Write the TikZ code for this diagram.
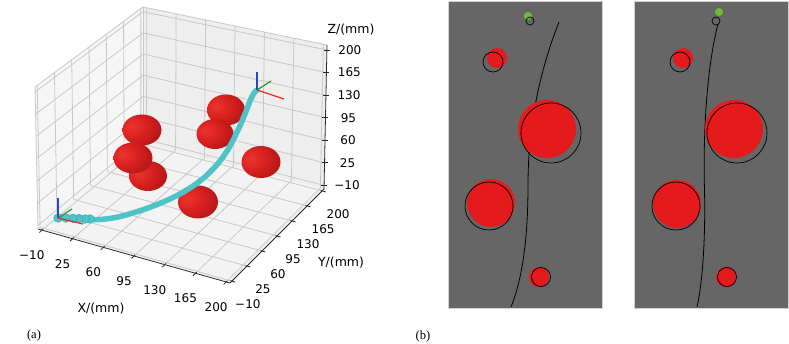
\documentclass[tikz,border=0pt]{standalone}
\usepackage{fontspec}
\setmainfont{Liberation Serif}
\newfontfamily\plotfont{DejaVu Sans}
\usetikzlibrary{calc}
\definecolor{gridc}{RGB}{200,200,200}
\definecolor{paneL}{RGB}{246,246,246}
\definecolor{paneR}{RGB}{238,238,238}
\definecolor{paneF}{RGB}{243,243,243}
\definecolor{axisc}{RGB}{40,40,40}
\definecolor{trajc}{RGB}{78,196,200}
\definecolor{trajd}{RGB}{60,170,176}
\definecolor{sphA}{RGB}{236,52,46}
\definecolor{sphB}{RGB}{216,32,32}
\definecolor{sphC}{RGB}{176,22,22}
\definecolor{sphD}{RGB}{128,14,14}
\definecolor{panelgray}{RGB}{102,102,102}
\definecolor{obsred}{RGB}{228,26,28}
\definecolor{goalgreen}{RGB}{108,190,48}
\definecolor{frameR}{RGB}{228,40,40}
\definecolor{frameG}{RGB}{40,150,40}
\definecolor{frameB}{RGB}{40,70,200}
\pgfdeclareradialshading{sph}{\pgfpoint{-14bp}{6bp}}{color(0bp)=(sphA); color(18bp)=(sphB); color(36bp)=(sphC); color(54bp)=(sphD); color(100bp)=(sphD)}
\tikzset{
  gridline/.style={draw=gridc, line width=0.8pt},
  axisline/.style={draw=axisc, line width=0.8pt},
  ticklab/.style={font=\plotfont\fontsize{12}{14}\selectfont, inner sep=0pt},
  axlab/.style={font=\plotfont\fontsize{12.5}{14}\selectfont, inner sep=0pt},
  figlab/.style={font=\fontsize{12.5}{14}\selectfont, inner sep=0pt},
  sphere/.style={shading=sph},
  traj/.style={draw=trajc, line width=5.5pt, line cap=round, line join=round},
  trajdot/.style={fill=trajc, draw=trajd, line width=0.5pt},
  panel/.style={fill=panelgray, draw=gray!35, line width=0.6pt},
  obs/.style={fill=obsred},
  obsring/.style={draw=black, line width=0.7pt},
  path/.style={draw=black, line width=0.8pt},
  goal/.style={fill=goalgreen},
  fr/.style={line width=1.2pt}
}
\begin{document}
\begin{tikzpicture}[x=1pt,y=-1pt]
\useasboundingbox (0,0) rectangle (789,344);
% ---------- 3D box corners ----------
\coordinate (A) at (143,7);
\coordinate (B) at (143,142);
\coordinate (C) at (35,87);
\coordinate (D) at (38,229);
\coordinate (E) at (327,45);
\coordinate (F) at (324,189);
\coordinate (G) at (230,283);
% panes
\fill[paneL] (D) -- (B) -- (A) -- (C) -- cycle;
\fill[paneR] (B) -- (F) -- (E) -- (A) -- cycle;
\fill[paneF] (D) -- (G) -- (F) -- (B) -- cycle;
% grids
\foreach \i in {0,...,6}{
  \pgfmathsetmacro\t{0.02+\i*0.16}
  \pgfmathsetmacro\tz{0.025+\i*0.1567}
  \draw[gridline] ($(D)!\t!(B)$) -- ($(C)!\t!(A)$);
  \draw[gridline] ($(D)!\tz!(C)$) -- ($(B)!\tz!(A)$);
  \draw[gridline] ($(B)!\t!(F)$) -- ($(A)!\t!(E)$);
  \draw[gridline] ($(B)!\tz!(A)$) -- ($(F)!\tz!(E)$);
  \draw[gridline] ($(D)!\t!(G)$) -- ($(B)!\t!(F)$);
  \draw[gridline] ($(D)!\t!(B)$) -- ($(G)!\t!(F)$);
}
% pane edges
\draw[gridline] (C) -- (A) -- (E);
\draw[gridline] (C) -- (D);
\draw[gridline] (A) -- (B);
% axis lines
\draw[axisline] (D) -- (G) -- (F) -- (E);
% ticks and labels
\foreach \i/\lab in {0/−10,1/25,2/60,3/95,4/130,5/165,6/200}{
  \pgfmathsetmacro\t{0.02+\i*0.16}
  \pgfmathsetmacro\tz{0.025+\i*0.1567}
  \coordinate (xt) at ($(D)!\t!(G)$);
  \draw[axisline] ($(xt)+(1.2,-1.2)$) -- ($(xt)+(-2.5,2.5)$);
  \node[ticklab] at ($(xt)+(-10,25)$) {\lab};
  \coordinate (yt) at ($(G)!\t!(F)$);
  \draw[axisline] ($(yt)+(-1.5,-0.4)$) -- ($(yt)+(3.5,1)$);
  \node[ticklab] at ($(yt)+(16,23)$) {\lab};
  \coordinate (zt) at ($(F)!\tz!(E)$);
  \draw[axisline] ($(zt)+(-3,0)$) -- ($(zt)+(3,0)$);
  \node[ticklab] at ($(zt)+(23,0)$) {\lab};
}
\node[axlab] (xlab) at (101,309) {X/(mm)};
\node[axlab] (ylab) at (341,263) {Y/(mm)};
\node[axlab] (zlab) at (351,30) {Z/(mm)};
% ---------- spheres ----------
\shade[sphere] (142,130) ellipse [x radius=19.5, y radius=15.5];
\shade[sphere] (148,176) ellipse [x radius=19, y radius=15];
\shade[sphere] (133,158) ellipse [x radius=19.5, y radius=15.5];
\shade[sphere] (226,110) ellipse [x radius=19, y radius=15.5];
\shade[sphere] (215,134) ellipse [x radius=18.5, y radius=15];
\shade[sphere] (261,162) ellipse [x radius=19.5, y radius=16];
\shade[sphere] (198,202) ellipse [x radius=20, y radius=16.5];
% ---------- trajectory ----------
\coordinate (start) at (58,218);
\coordinate (goal) at (257,90);
\draw[traj] plot[smooth, tension=0.6] coordinates {(86,219) (100,219.5) (118,217) (136,212) (156,205) (176,196) (193,186) (207,175) (220,161) (230,146) (238,130) (245,114) (250,101) (254,93) (257,90)};
\foreach \x/\y in {90/219,85/219,79/218.5,73/218.3,66/218,58/218}{
  \filldraw[trajdot] (\x,\y) circle[radius=4.3];
}
% frames
\draw[fr, frameB] (start) -- (58,198);
\draw[fr, frameG] (start) -- (72,209);
\draw[fr, frameR] (start) -- (83,224);
\draw[fr, frameB] (goal) -- (257,72);
\draw[fr, frameG] (goal) -- (271,81);
\draw[fr, frameR] (goal) -- (284,99);
\node[figlab] (la) at (34,335) {(a)};
% ---------- panel 1 ----------
\draw[panel] (448,1) rectangle (602,308);
\fill[goal] (528,16) circle[radius=4];
\draw[obsring] (530,21) circle[radius=4];
\coordinate (p1a) at (559,22);
\coordinate (p1b) at (528,185);
\coordinate (p1c) at (511,307);
\draw[path] (p1a) .. controls (540,70) and (528,125) .. (p1b) .. controls (528,240) and (522,280) .. (p1c);
\fill[obs] (497,58) circle[radius=10];
\draw[obsring] (493,62) circle[radius=10];
\fill[obs] (547,129) circle[radius=29];
\draw[obsring] (551,133) circle[radius=30];
\fill[obs] (491,203) circle[radius=24];
\draw[obsring] (489,206) circle[radius=24];
\fill[obs] (539,277) circle[radius=10];
\draw[obsring] (541,277) circle[radius=9.5];
% ---------- panel 2 ----------
\draw[panel] (634,1) rectangle (788,308);
\fill[goal] (719,12) circle[radius=4];
\draw[obsring] (716,21) circle[radius=4];
\coordinate (p2a) at (718,24);
\coordinate (p2b) at (704.5,190);
\coordinate (p2c) at (697,307);
\draw[path] (p2a) .. controls (706,70) and (703,140) .. (p2b) .. controls (705.5,235) and (703,280) .. (p2c);
\fill[obs] (683,58) circle[radius=10];
\draw[obsring] (680,62) circle[radius=10];
\fill[obs] (734,129) circle[radius=29];
\draw[obsring] (737,133) circle[radius=30];
\fill[obs] (677,204) circle[radius=24];
\draw[obsring] (676,206) circle[radius=24];
\fill[obs] (726,277) circle[radius=10];
\draw[obsring] (727,277) circle[radius=9.5];
\node[figlab] (lb) at (423,336) {(b)};
\end{tikzpicture}
\end{document}
